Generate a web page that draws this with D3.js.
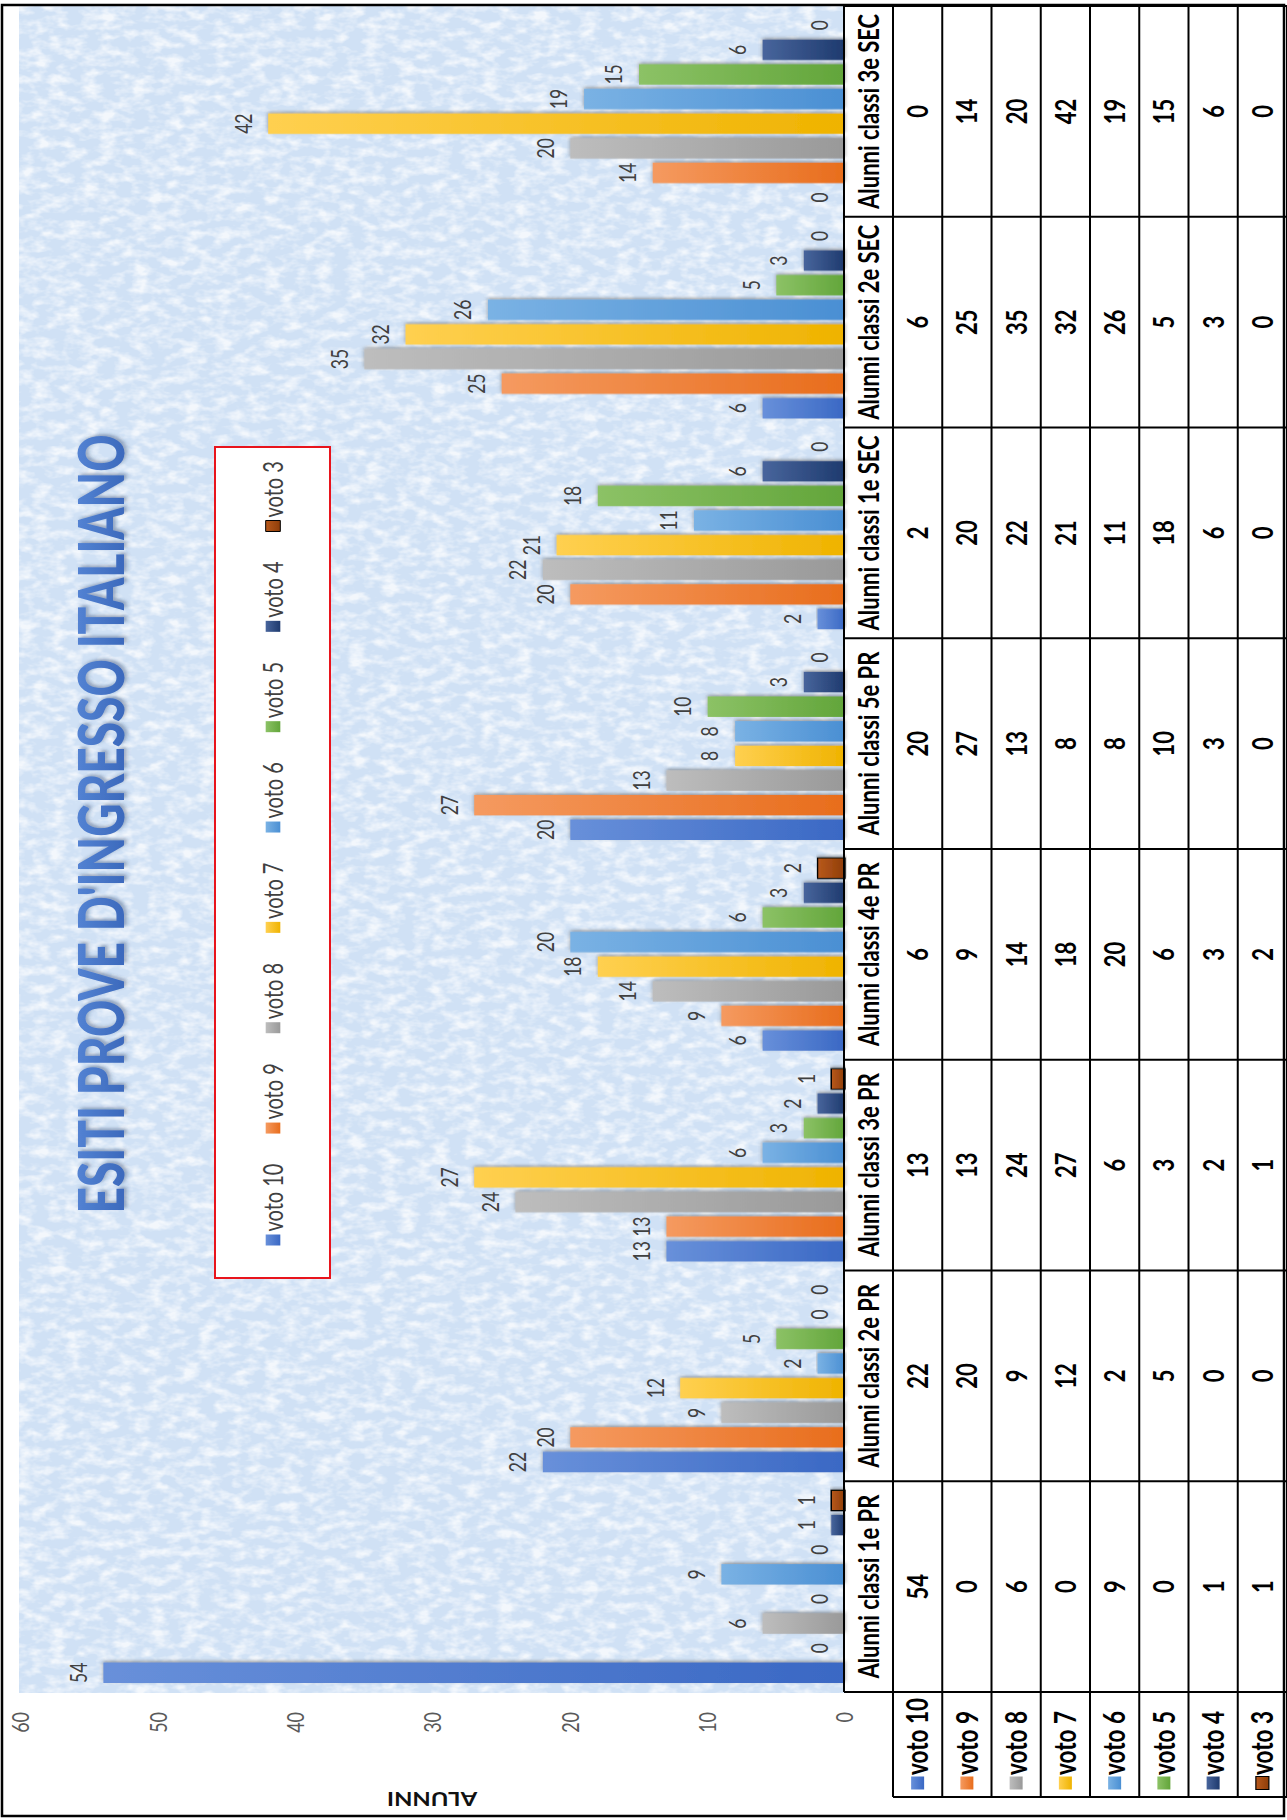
<!DOCTYPE html>
<html><head><meta charset="utf-8">
<script src="https://cdn.jsdelivr.net/npm/d3@7"></script>
<style>
html,body{margin:0;padding:0;background:#fff;}
svg{display:block;}
text{font-family:Lato,"Open Sans",sans-serif;}
</style></head><body>
<svg id="c" width="1287" height="1820"></svg>
<script>
// ---------- DATA ----------
const categories = ["Alunni classi 1e PR","Alunni classi 2e PR","Alunni classi 3e PR","Alunni classi 4e PR","Alunni classi 5e PR","Alunni classi 1e SEC","Alunni classi 2e SEC","Alunni classi 3e SEC"];
const seriesNames = ["voto 10","voto 9","voto 8","voto 7","voto 6","voto 5","voto 4","voto 3"];
const voto10 = [54,22,13,6,20,2,6,0];
const voto9  = [0,20,13,9,27,20,25,14];
const voto8  = [6,9,24,14,13,22,35,20];
const voto7  = [0,12,27,18,8,21,32,42];
const voto6  = [9,2,6,20,8,11,26,19];
const voto5  = [0,5,3,6,10,18,5,15];
const voto4  = [1,0,2,3,3,6,3,6];
const voto3  = [1,0,1,2,0,0,0,0];
const seriesValues = [voto10,voto9,voto8,voto7,voto6,voto5,voto4,voto3];
const yTicks = [0,10,20,30,40,50,60];
const titleText = "ESITI PROVE D'INGRESSO ITALIANO";
const axisTitle = "ALUNNI";
const colLight = ["#6890da","#f59a60","#bdbdbd","#ffd050","#7ab2e4","#8cc266","#48659c","#b8591c"];
const colDark  = ["#3a68c4","#e86d1c","#999999","#efb300","#4a8fd3","#62a53a","#1e3a6e","#8e3d09"];

// ---------- SETUP ----------
const K = 1.33, W = 1820, H = 1287 / K;
const svg = d3.select("#c");
const defs = svg.append("defs");
colLight.forEach((c,i)=>{
  const gr = defs.append("linearGradient").attr("id","g"+i).attr("x1",0).attr("y1",0).attr("x2",0).attr("y2",1);
  gr.append("stop").attr("offset","0%").attr("stop-color",c);
  gr.append("stop").attr("offset","100%").attr("stop-color",colDark[i]);
});
const tg = defs.append("linearGradient").attr("id","tg").attr("x1",0).attr("y1",0).attr("x2",0).attr("y2",1);
tg.append("stop").attr("offset","0%").attr("stop-color","#5b8bda");
tg.append("stop").attr("offset","100%").attr("stop-color","#3562b6");
const tex = defs.append("filter").attr("id","tex").attr("x",0).attr("y",0).attr("width","100%").attr("height","100%");
tex.append("feTurbulence").attr("type","fractalNoise").attr("baseFrequency","0.11 0.08").attr("numOctaves",3).attr("seed",11).attr("result","n");
tex.append("feColorMatrix").attr("in","n").attr("type","matrix")
  .attr("values","0 0 0 0 1  0 0 0 0 1  0 0 0 0 1  0 0 0 -2.6 1.55");
const sh = defs.append("filter").attr("id","sh").attr("x","-20%").attr("y","-5%").attr("width","140%").attr("height","110%");
sh.append("feDropShadow").attr("dx",1.5).attr("dy",0).attr("stdDeviation",1.6).attr("flood-color","#555").attr("flood-opacity",0.55);
const tsh = defs.append("filter").attr("id","tsh").attr("x","-5%").attr("y","-20%").attr("width","110%").attr("height","150%");
tsh.append("feDropShadow").attr("dx",2).attr("dy",2).attr("stdDeviation",1.5).attr("flood-color","#2a3f66").attr("flood-opacity",0.4);

svg.append("rect").attr("width",1287).attr("height",1820).attr("fill","#fff");
const g = svg.append("g").attr("transform",`translate(0,1820) rotate(-90) scale(1,${K})`);

// scales
const x0 = d3.scaleBand().domain(categories).range([128,1814]);
const x1 = d3.scaleBand().domain(seriesNames).range([9, x0.bandwidth()-9]).paddingInner(0.17);
const y = d3.scaleLinear().domain([0,60]).range([845/K, 21/K]);

// plot background
g.append("rect").attr("x",127).attr("y",19/K).attr("width",1814-127).attr("height",y(0)-19/K).attr("fill","#d0e1f5");
g.append("rect").attr("x",127).attr("y",19/K).attr("width",1814-127).attr("height",y(0)-19/K).attr("fill","#fff").attr("filter","url(#tex)").attr("opacity",0.75);

// value axis
const ax = g.append("g").attr("transform","translate(128,0)")
  .call(d3.axisLeft(y).tickValues(yTicks).tickSize(0).tickPadding(20));
ax.select(".domain").remove();
ax.selectAll("text").attr("font-family","Lato").attr("font-size",18).attr("fill","#595959");

// axis title
g.append("text").attr("transform",`translate(28,${432/K}) rotate(-90)`).attr("text-anchor","middle")
  .attr("font-size",18).attr("font-weight",700).attr("fill","#111").text(axisTitle);

// bars
const groups = g.selectAll("g.cat").data(categories).join("g").attr("class","cat")
  .attr("transform",d=>`translate(${x0(d)},0)`);
seriesNames.forEach((s,i)=>{
  groups.filter((d,j)=>seriesValues[i][j]>0).append("rect")
    .attr("x",x1(s)).attr("width",x1.bandwidth())
    .attr("y",(d)=>y(seriesValues[i][categories.indexOf(d)]))
    .attr("height",(d)=>y(0)-y(seriesValues[i][categories.indexOf(d)]))
    .attr("fill",`url(#g${i})`).attr("filter","url(#sh)")
    .attr("stroke",i===7?"#000":"none").attr("stroke-width",i===7?1.3:0).attr("vector-effect","non-scaling-stroke");
  groups.append("text").attr("x",x1(s)+x1.bandwidth()/2)
    .attr("y",(d)=>y(seriesValues[i][categories.indexOf(d)])-12.5)
    .attr("text-anchor","middle").attr("font-size",17.5).attr("fill","#404040")
    .text(d=>seriesValues[i][categories.indexOf(d)]);
});

// legend
const lg = g.append("g");
lg.append("rect").attr("x",542).attr("y",215/K).attr("width",1373-542).attr("height",(330-215)/K)
  .attr("fill","#fff").attr("stroke","#e8141c").attr("stroke-width",2).attr("vector-effect","non-scaling-stroke");
let cx = 574.5; const ly = 273/K;
seriesNames.forEach((s,i)=>{
  lg.append("rect").attr("x",cx).attr("y",ly-5.5).attr("width",11).attr("height",11).attr("fill",`url(#g${i})`)
    .attr("stroke",i===7?"#000":"none").attr("stroke-width",1).attr("vector-effect","non-scaling-stroke");
  const t = lg.append("text").attr("x",cx+14).attr("y",ly).attr("dy","0.36em").attr("font-size",20).attr("fill","#404040").text(s);
  cx += 14 + t.node().getComputedTextLength() + 30;
});

// title
g.append("text").attr("x",996).attr("y",124/K).attr("text-anchor","middle")
  .attr("font-size",47).attr("font-weight",900).attr("fill","url(#tg)").attr("filter","url(#tsh)")
  .attr("textLength",779).attr("lengthAdjust","spacingAndGlyphs").text(titleText);

// data table
const rowTop = 844/K, rowH = (1287-893)/8/K, hdrBottom = 893/K, tblLeft = 1820-1797;
const tb = g.append("g");
const ln = (xa,ya,xb,yb)=>tb.append("line").attr("x1",xa).attr("y1",ya).attr("x2",xb).attr("y2",yb)
  .attr("stroke","#000").attr("stroke-width",2).attr("vector-effect","non-scaling-stroke");
ln(128,rowTop,1814,rowTop);
for(let r=0;r<=8;r++){ const yy = hdrBottom + r*rowH; ln(tblLeft,yy,1814,yy); }
categories.forEach((c,j)=>ln(x0(c),rowTop,x0(c),H));
ln(1814,rowTop,1814,H);
ln(tblLeft,hdrBottom,tblLeft,H);
tb.selectAll("text.hdr").data(categories).join("text").attr("class","hdr")
  .attr("x",d=>x0(d)+x0.bandwidth()/2).attr("y",(rowTop+hdrBottom)/2).attr("dy","0.36em")
  .attr("text-anchor","middle").attr("font-size",22).attr("font-weight",700).attr("fill","#000").text(d=>d);
seriesNames.forEach((s,i)=>{
  const cyR = hdrBottom + (i+0.5)*rowH;
  tb.append("rect").attr("x",30.5).attr("y",cyR-6.5/K).attr("width",13).attr("height",13/K)
    .attr("fill",`url(#g${i})`).attr("stroke",i===7?"#000":"none").attr("stroke-width",1.2).attr("vector-effect","non-scaling-stroke");
  tb.append("text").attr("x",45).attr("y",cyR).attr("dy","0.36em").attr("font-size",22.5).attr("font-weight",700).attr("fill","#000").text(s);
  categories.forEach((c,j)=>{
    tb.append("text").attr("x",x0(c)+x0.bandwidth()/2).attr("y",cyR).attr("dy","0.36em")
      .attr("text-anchor","middle").attr("font-size",22).attr("font-weight",700).attr("fill","#000").text(seriesValues[i][j]);
  });
});

// outer border
g.append("rect").attr("x",4).attr("y",2/K).attr("width",1815-4).attr("height",(1284-2)/K)
  .attr("fill","none").attr("stroke","#000").attr("stroke-width",2.5).attr("vector-effect","non-scaling-stroke");
</script></body></html>
